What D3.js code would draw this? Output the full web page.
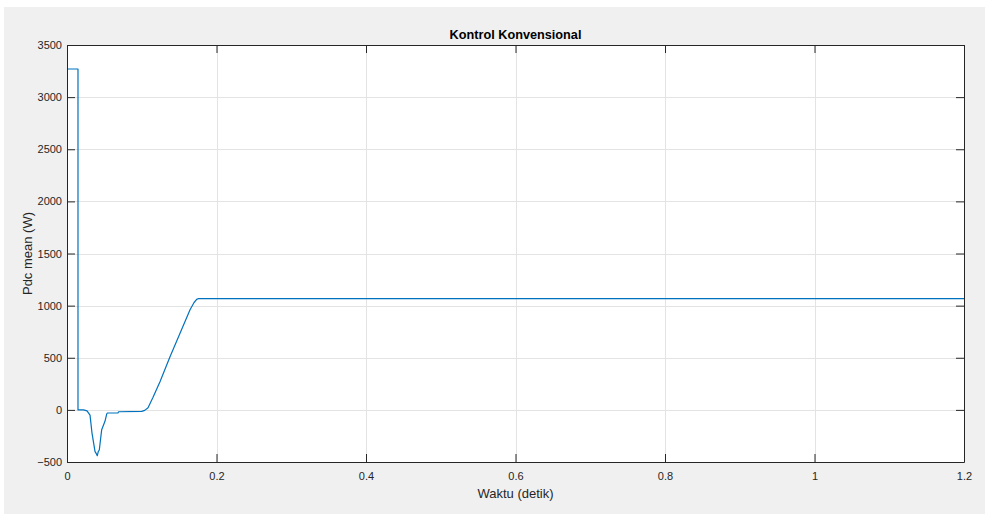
<!DOCTYPE html>
<html><head><meta charset="utf-8">
<script src="https://cdn.jsdelivr.net/npm/d3@7/dist/d3.min.js"></script>
<style>
html,body{margin:0;padding:0;background:#fff;}
svg{display:block;}
text{font-family:"Liberation Sans",Arial,Helvetica,sans-serif;}
</style></head>
<body>
<svg id="chart" width="985" height="514"></svg>
<script>
// ---- data ----
const timeValues = [0, 0.0147, 0.0147, 0.022, 0.0268, 0.0308, 0.0334, 0.0375, 0.0392, 0.0405, 0.0418, 0.0432, 0.0464, 0.0508, 0.0531, 0.0540, 0.0682, 0.0690, 0.1000, 0.1040, 0.1084, 0.1151, 0.1244, 0.1378, 0.1646, 0.1700, 0.1735, 0.1760, 1.2];
const pdcValues  = [3270, 3270, 0, 0, -10, -50, -220, -400, -420, -440, -400, -385, -190, -110, -40, -30, -30, -18, -15, -5, 20, 120, 270, 510, 960, 1030, 1060, 1068, 1068];
const xTicks = [0, 0.2, 0.4, 0.6, 0.8, 1, 1.2];
const xTickLabels = ["0", "0.2", "0.4", "0.6", "0.8", "1", "1.2"];
const yTicks = [-500, 0, 500, 1000, 1500, 2000, 2500, 3000, 3500];
const titleText = "Kontrol Konvensional";
const xLabelText = "Waktu (detik)";
const yLabelText = "Pdc mean (W)";

const svg = d3.select("#chart");
const W = 985, H = 514;
const L = 67, R = 964, T = 45, B = 462;
const axisColor = "#262626", gridColor = "#e3e3e3";

// figure background
svg.append("rect").attr("x", 4).attr("y", 7).attr("width", W - 4).attr("height", H - 7).attr("fill", "#f0f0f0");
svg.append("rect").attr("x", L).attr("y", T).attr("width", R - L).attr("height", B - T).attr("fill", "#fff");

const x = d3.scaleLinear().domain([0, 1.2]).range([L, R]);
const y = d3.scaleLinear().domain([-500, 3500]).range([B, T]);

// grid
const g = svg.append("g");
g.selectAll(".gx").data(xTicks.slice(1, -1)).join("line")
  .attr("x1", d => Math.round(x(d)) + 0.5).attr("x2", d => Math.round(x(d)) + 0.5)
  .attr("y1", T).attr("y2", B).attr("stroke", gridColor).attr("stroke-width", 1);
g.selectAll(".gy").data(yTicks.slice(1, -1)).join("line")
  .attr("y1", d => Math.round(y(d)) + 0.5).attr("y2", d => Math.round(y(d)) + 0.5)
  .attr("x1", L).attr("x2", R).attr("stroke", gridColor).attr("stroke-width", 1);

// line
const line = d3.line().x((d, i) => x(timeValues[i])).y(d => y(d));
svg.append("path").datum(pdcValues).attr("d", line)
  .attr("fill", "none").attr("stroke", "#0072bd").attr("stroke-width", 1.2)
  .attr("stroke-linejoin", "round");

// axes (inward ticks)
const tl = 8;
const xb = d3.axisBottom(x).tickValues(xTicks).tickFormat((d, i) => xTickLabels[i]).tickSizeInner(-tl).tickSizeOuter(0).tickPadding(10);
const xt = d3.axisTop(x).tickValues(xTicks).tickFormat("").tickSizeInner(-tl).tickSizeOuter(0);
const yl = d3.axisLeft(y).tickValues(yTicks).tickFormat(d3.format("d")).tickSizeInner(-tl).tickSizeOuter(0).tickPadding(5);
const yr = d3.axisRight(y).tickValues(yTicks).tickFormat("").tickSizeInner(-tl).tickSizeOuter(0);

function style(sel) {
  sel.attr("font-size", 11).attr("font-family", "'Liberation Sans', Arial, sans-serif");
  sel.select(".domain").attr("stroke", axisColor);
  sel.selectAll(".tick line").attr("stroke", axisColor);
  sel.selectAll(".tick text").attr("fill", axisColor).style("font-size", "11px");
}
svg.append("g").attr("transform", `translate(0,${B})`).call(xb).call(style);
svg.append("g").attr("transform", `translate(0,${T})`).call(xt).call(style);
svg.append("g").attr("transform", `translate(${L},0)`).call(yl).call(style);
svg.append("g").attr("transform", `translate(${R},0)`).call(yr).call(style);

// title & labels
svg.append("text").attr("x", (L + R) / 2).attr("y", 39).attr("text-anchor", "middle")
  .attr("font-weight", "bold").attr("font-size", "12.7px").attr("fill", "#000").text(titleText);
svg.append("text").attr("x", (L + R) / 2).attr("y", 498).attr("text-anchor", "middle")
  .attr("font-size", "13px").attr("fill", axisColor).text(xLabelText);
svg.append("text").attr("transform", `translate(32,${(T + B) / 2}) rotate(-90)`).attr("text-anchor", "middle")
  .attr("font-size", "13px").attr("fill", axisColor).text(yLabelText);
</script>
</body></html>
